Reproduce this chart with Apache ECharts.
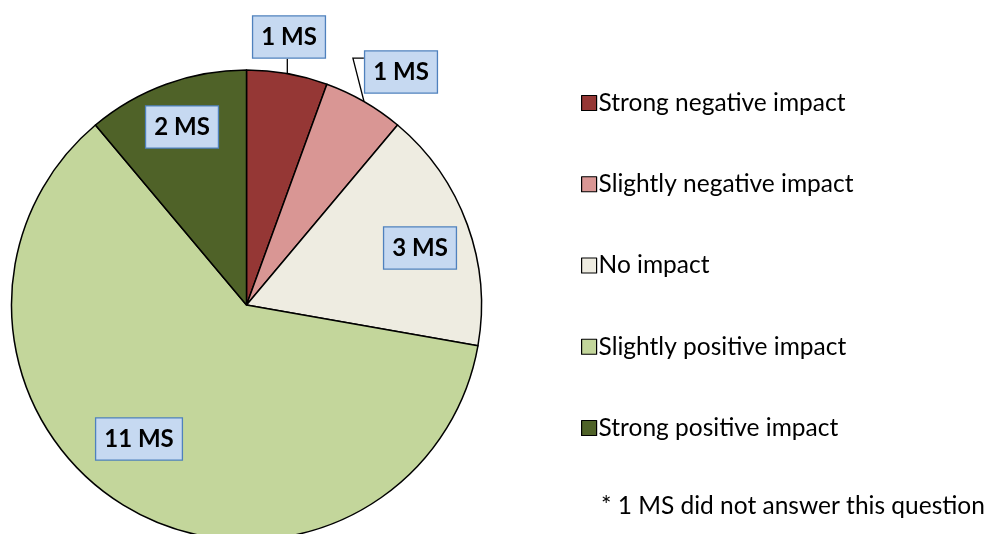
<!DOCTYPE html>
<html>
<head>
<meta charset="utf-8">
<script src="https://cdn.jsdelivr.net/npm/echarts@6/dist/echarts.min.js"></script>
<style>
  html, body { margin: 0; padding: 0; background: #fff; }
  #main { width: 990px; height: 534px; }
</style>
</head>
<body>
<div id="main"></div>
<script>
var categories = ['Strong negative impact', 'Slightly negative impact', 'No impact', 'Slightly positive impact', 'Strong positive impact'];
var counts = [1, 1, 3, 11, 2];
var colors = ['#953735', '#d99694', '#eeece1', '#c3d69b', '#4f6228'];
var footnote = '* 1 MS did not answer this question';

// where each label box sits (center), and whether it has a leader line
var labelSpots = [[289, 37], [401, 72], [420, 248], [139, 439], [182, 127]];
var outside = [true, true, false, false, false];

var chart = echarts.init(document.getElementById('main'));

var data = counts.map(function (v, i) {
    return {
        name: categories[i],
        value: v,
        itemStyle: { color: colors[i] },
        label: { position: outside[i] ? 'outside' : 'inside' },
        labelLine: { show: outside[i] }
    };
});

chart.setOption({
    animation: false,
    legend: {
        orient: 'vertical',
        left: 576,
        top: 85.5,
        itemWidth: 15,
        itemHeight: 15,
        itemGap: 56.25,
        icon: 'rect',
        itemStyle: { borderColor: '#000', borderWidth: 1.2 },
        textStyle: { fontFamily: 'Lato', fontSize: 24.5, lineHeight: 25, color: '#000', padding: [0, 0, 0, -3] },
        data: categories
    },
    graphic: [{
        type: 'text',
        left: 601,
        top: 494,
        style: { text: footnote, font: '24.5px Lato', fill: '#000' }
    }],
    series: [{
        type: 'pie',
        center: [246.5, 305],
        radius: 235,
        startAngle: 90,
        clockwise: true,
        avoidLabelOverlap: false,
        data: data,
        itemStyle: { borderColor: '#000', borderWidth: 1.5 },
        emphasis: { disabled: true },
        label: {
            show: true,
            formatter: function (p) { return p.value + ' MS'; },
            fontFamily: 'Lato',
            fontWeight: 'bold',
            fontSize: 24,
            lineHeight: 24,
            color: '#000',
            backgroundColor: '#c6d9f1',
            borderColor: '#4f81bd',
            borderWidth: 1.3,
            padding: [9, 8, 8, 8]
        },
        labelLine: {
            show: true,
            length: 10,
            length2: 10,
            lineStyle: { color: '#000', width: 1.3 }
        },
        labelLayout: function (params) {
            var spot = labelSpots[params.dataIndex];
            var out = { x: spot[0], y: spot[1], align: 'center', verticalAlign: 'middle' };
            var pts = params.labelLinePoints;
            if (pts && params.dataIndex === 0) {
                var a = pts[0];
                out.labelLinePoints = [a, [a[0], spot[1] + params.labelRect.height / 2]];
            } else if (pts && params.dataIndex === 1) {
                var b = pts[0];
                var lx = spot[0] - params.labelRect.width / 2;
                var ly = spot[1] - params.labelRect.height / 2 + 8;
                out.labelLinePoints = [b, [lx - 11, ly], [lx, ly]];
            }
            return out;
        }
    }]
});
</script>
</body>
</html>
